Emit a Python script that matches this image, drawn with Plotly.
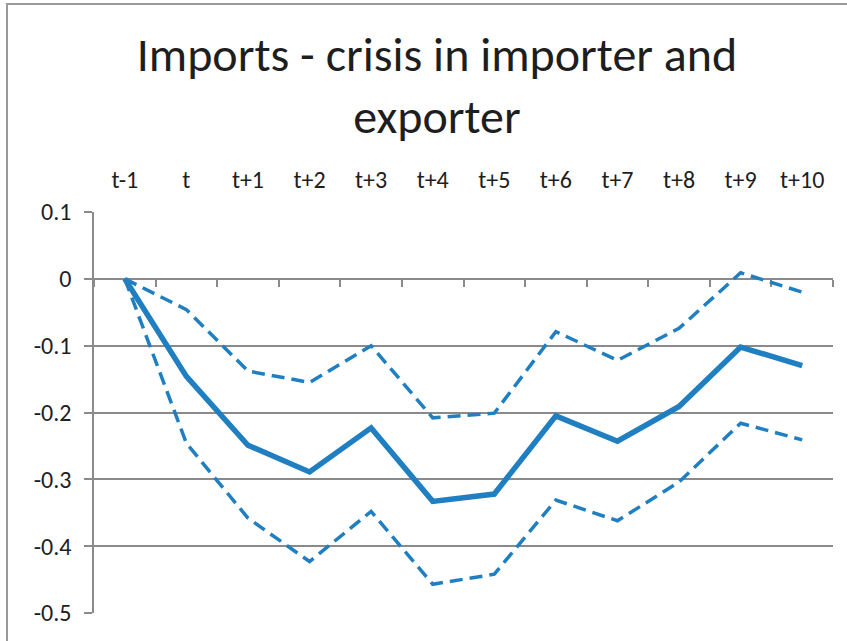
import plotly.graph_objects as go

categories = ["t-1", "t", "t+1", "t+2", "t+3", "t+4", "t+5", "t+6", "t+7", "t+8", "t+9", "t+10"]
central = [0.0, -0.146, -0.249, -0.289, -0.223, -0.333, -0.322, -0.205, -0.243, -0.191, -0.102, -0.130]
upper = [0.0, -0.046, -0.138, -0.155, -0.100, -0.208, -0.201, -0.079, -0.122, -0.074, 0.009, -0.020]
lower = [0.0, -0.246, -0.358, -0.423, -0.348, -0.457, -0.442, -0.331, -0.362, -0.304, -0.216, -0.241]
y_ticks = [-0.5, -0.4, -0.3, -0.2, -0.1, 0.0, 0.1]
y_tick_text = ["-0.5", "-0.4", "-0.3", "-0.2", "-0.1", "0", "0.1"]
title_text = "Imports - crisis in importer and<br>exporter"

BLUE = "#1f7fc1"
GRAY = "#8a8a8a"
FONT = "Carlito, Lato, sans-serif"
TXT = "#1e1e1e"

fig = go.Figure()
fig.add_trace(go.Scatter(x=categories, y=upper, mode="lines", xaxis="x",
                         line=dict(color=BLUE, width=3.5, dash="13px,7px")))
fig.add_trace(go.Scatter(x=categories, y=lower, mode="lines", xaxis="x",
                         line=dict(color=BLUE, width=3.5, dash="13px,7px")))
fig.add_trace(go.Scatter(x=categories, y=central, mode="lines", xaxis="x2",
                         line=dict(color=BLUE, width=5.5)))

fig.update_layout(
    width=847, height=641,
    margin=dict(l=94, r=14, t=212, b=28),
    paper_bgcolor="white", plot_bgcolor="white",
    showlegend=False,
    font=dict(family=FONT, color=TXT),
    title=dict(text=title_text, x=437 / 847, xref="container", xanchor="center",
               y=1 - 71 / 641, yref="container", yanchor="top",
               font=dict(size=48, family=FONT, color=TXT)),
    xaxis=dict(type="category", categoryorder="array", categoryarray=categories,
               range=[-0.5, 11.5], side="top", showline=False, showgrid=False,
               zeroline=False, ticks="", showticklabels=True,
               tickfont=dict(size=24, family=FONT, color=TXT),
               ticklabelstandoff=18),
    xaxis2=dict(type="category", categoryorder="array", categoryarray=categories,
                range=[-0.5, 11.5], overlaying="x", anchor="free", position=5 / 6,
                side="bottom", showline=True, linecolor=GRAY, linewidth=1.5,
                ticks="outside", ticklen=7, tickwidth=1.5, tickcolor=GRAY,
                tickson="boundaries", showticklabels=False, showgrid=False,
                zeroline=False, layer="below traces"),
    yaxis=dict(range=[-0.5, 0.1], tickvals=y_ticks, ticktext=y_tick_text,
               showline=True, linecolor=GRAY, linewidth=1.5,
               ticks="outside", ticklen=8, tickwidth=1.5, tickcolor=GRAY,
               showgrid=True, gridcolor=GRAY, gridwidth=1.5, zeroline=False,
               tickfont=dict(size=24, family=FONT, color=TXT),
               ticklabelstandoff=8, layer="below traces"),
    shapes=[dict(type="rect", xref="paper", yref="paper",
                 x0=(7 - 94) / 739, x1=1.5, y0=-0.5, y1=(613 - 4) / 401,
                 line=dict(color="#9a9a9a", width=2), fillcolor="rgba(0,0,0,0)",
                 layer="below")],
)

fig.write_html("out.html", config={"displayModeBar": False},
               post_script="document.body.style.margin='0';")
